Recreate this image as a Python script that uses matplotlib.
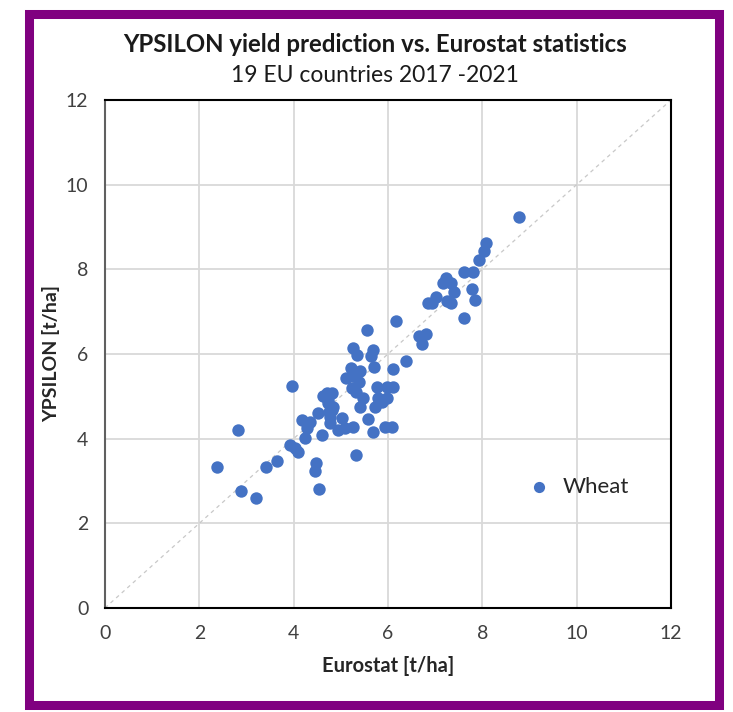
import numpy as np
import matplotlib.pyplot as plt
from matplotlib.patches import Rectangle

# Data (t/ha)
eurostat = [8.77, 8.07, 8.03, 7.94, 7.61, 7.80, 7.22, 7.16, 7.33, 7.39,
            7.01, 6.84, 6.93, 7.25, 7.33, 7.78, 7.84, 7.61, 6.17, 6.65,
            6.80, 6.72, 5.55, 6.38, 5.25, 5.34, 5.68, 5.64, 5.70, 6.10,
            5.21, 5.40, 5.11, 5.25, 5.38, 5.23, 5.32, 5.76, 5.97, 6.10,
            3.96, 4.70, 4.81, 5.47, 5.40, 5.78, 5.97, 5.87, 5.72, 4.72,
            4.81, 4.77, 5.02, 4.51, 4.17, 4.34, 4.28, 4.77, 5.25, 5.08,
            5.57, 4.94, 5.93, 6.08, 5.68, 4.60, 4.24, 2.82, 2.37, 2.88,
            3.20, 3.41, 3.64, 3.92, 4.03, 4.09, 4.47, 4.45, 4.53, 5.32,
            4.83, 4.72, 4.75, 4.62]
ypsilon = [9.24, 8.62, 8.43, 8.22, 7.94, 7.94, 7.80, 7.68, 7.68, 7.47,
           7.35, 7.20, 7.20, 7.25, 7.20, 7.54, 7.28, 6.85, 6.78, 6.43,
           6.47, 6.24, 6.57, 5.84, 6.14, 5.98, 6.09, 5.95, 5.69, 5.65,
           5.67, 5.60, 5.43, 5.48, 5.34, 5.20, 5.10, 5.22, 5.22, 5.22,
           5.24, 5.08, 5.08, 4.96, 4.75, 4.96, 4.96, 4.87, 4.75, 4.84,
           4.68, 4.51, 4.49, 4.61, 4.44, 4.39, 4.25, 4.37, 4.28, 4.25,
           4.47, 4.21, 4.28, 4.28, 4.16, 4.09, 4.02, 4.21, 3.34, 2.76,
           2.60, 3.34, 3.48, 3.85, 3.78, 3.69, 3.42, 3.24, 2.81, 3.61,
           4.75, 4.91, 4.62, 5.00]

ticks = [0, 2, 4, 6, 8, 10, 12]
title = "YPSILON yield prediction vs. Eurostat statistics"
subtitle = "19 EU countries 2017 -2021"

plt.rcParams['font.family'] = ['Lato', 'DejaVu Sans']

fig = plt.figure(figsize=(7.33, 7.12), dpi=100)
ax = fig.add_axes([0.1432, 0.1461, 0.7722, 0.7135])

# 1:1 line
ax.plot([0, 12], [0, 12], linestyle=(0, (3, 3)), color='#c8c8c8', linewidth=0.9, zorder=1)
ax.scatter(eurostat, ypsilon, s=80, color='#4472C4', zorder=3, label='Wheat', linewidths=0)

ax.set_xlim(0, 12)
ax.set_ylim(0, 12)
ax.set_xticks(ticks)
ax.set_yticks(ticks)
ax.grid(True, color='#d9d9d9', linewidth=1.3, zorder=0)
ax.set_axisbelow(True)
ax.tick_params(length=0, labelsize=14, labelcolor='#404040', pad=12)
for s in ax.spines.values():
    s.set_color('black')
    s.set_linewidth(1.5)
ax.spines['left'].set_color('#606060')

ax.set_xlabel("Eurostat [t/ha]", fontsize=14.5, fontweight='bold', color='#262626', labelpad=10)
ax.set_ylabel("YPSILON [t/ha]", fontsize=14, fontweight='bold', color='#262626', labelpad=4)

ax.legend(loc='center left', bbox_to_anchor=(0.727, 0.238), frameon=False,
          fontsize=16, handletextpad=0.1, borderpad=0, borderaxespad=0,
          labelcolor='#262626', markerscale=0.9)

fig.text(0.512, 0.937, title, ha='center', va='center', fontsize=17.3, fontweight='bold', color='#1a1a1a')
fig.text(0.512, 0.894, subtitle, ha='center', va='center', fontsize=16.5, color='#1a1a1a')

# purple frame
fig.patches.append(Rectangle((0.0396, 0.0098), 0.9414, 0.9705, transform=fig.transFigure,
                             fill=False, edgecolor='#800080', linewidth=6.5, zorder=10))

plt.savefig('out.png', dpi=100)
